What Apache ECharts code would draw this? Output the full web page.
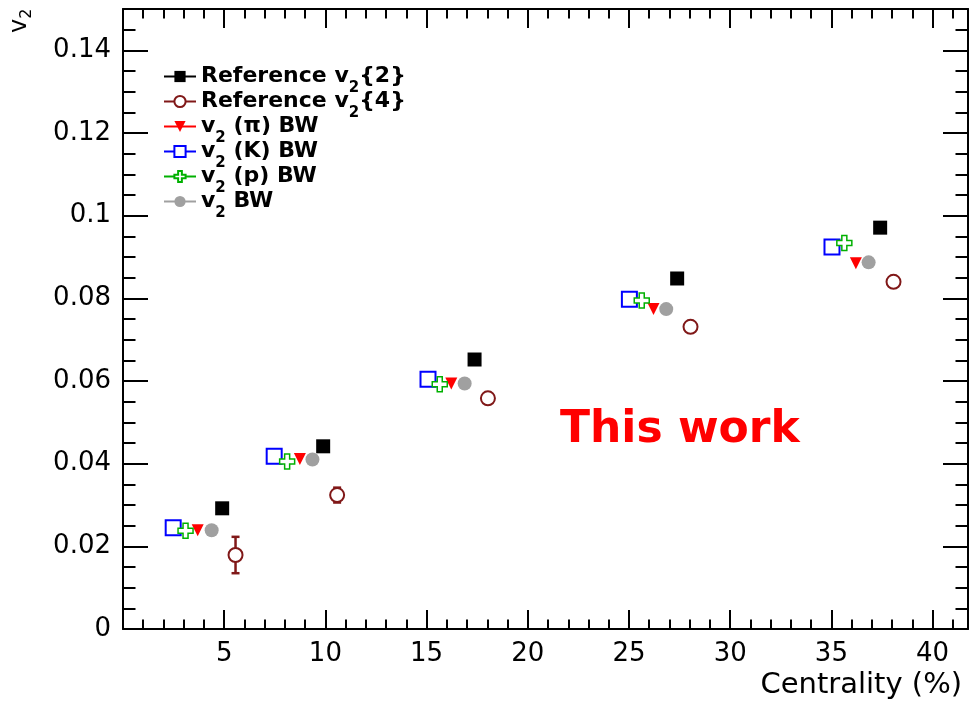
<!DOCTYPE html>
<html><head><meta charset="utf-8">
<script src="https://cdn.jsdelivr.net/npm/echarts@6/dist/echarts.min.js"></script>
<style>html,body{margin:0;padding:0;background:#fff}#c{width:971px;height:708px}</style>
</head><body><div id="c"></div>
<script>
// ---- data ----
const xTickLabels = [5, 10, 15, 20, 25, 30, 35, 40];
const yTickLabels = ['0', '0.02', '0.04', '0.06', '0.08', '0.1', '0.12', '0.14'];

const refV22X = [4.90, 9.89, 17.37, 27.38, 37.41];
const refV22Y = [0.0292, 0.0442, 0.0652, 0.0848, 0.0971];

const refV24X = [5.56, 10.58, 18.03, 28.04, 38.07];
const refV24Y = [0.0179, 0.0324, 0.0558, 0.0731, 0.0840];
const refV24Err = [0.0044, 0.0018, 0, 0, 0];

const piX = [3.69, 8.74, 16.22, 26.21, 36.21];
const piY = [0.0239, 0.0411, 0.0594, 0.0774, 0.0885];

const kX = [2.48, 7.47, 15.07, 25.02, 35.03];
const kY = [0.0245, 0.0418, 0.0604, 0.0798, 0.0924];

const pX = [3.09, 8.11, 15.65, 25.63, 35.64];
const pY = [0.0238, 0.0405, 0.0592, 0.0795, 0.0934];

const bwX = [4.38, 9.36, 16.88, 26.84, 36.84];
const bwY = [0.0239, 0.0410, 0.0594, 0.0774, 0.0887];

const seriesNames = ['Reference v2{2}', 'Reference v2{4}', 'v2 (π) BW', 'v2 (K) BW', 'v2 (p) BW', 'v2 BW'];
const legendTexts = ['Reference v{s|2}{2}', 'Reference v{s|2}{4}', 'v{s|2} (π) BW', 'v{s|2} (K) BW', 'v{s|2} (p) BW', 'v{s|2} BW'];

// ---- helpers ----
const FONT = 'DejaVu Sans';
const zip = (xs, ys) => xs.map((x, i) => [x, ys[i]]);
const XMIN = 0, XMAX = 41.75, YMIN = 0, YMAX = 0.15;

function xAxisDef(pos, major) {
  return {
    type: 'value', position: pos, min: XMIN, max: XMAX,
    interval: major ? 5 : 1,
    axisLine: { show: major, onZero: false, lineStyle: { color: '#000', width: 2 } },
    axisTick: { show: true, inside: true, length: major ? 19 : 9.5, lineStyle: { color: '#000', width: 2 } },
    axisLabel: (major && pos === 'bottom') ? {
      show: true, margin: 12, color: '#000', fontFamily: FONT, fontSize: 26,
      formatter: v => xTickLabels.indexOf(Math.round(v * 1000) / 1000) >= 0 ? String(Math.round(v)) : ''
    } : { show: false },
    splitLine: { show: false }
  };
}
function yAxisDef(pos, major) {
  return {
    type: 'value', position: pos, min: YMIN, max: YMAX,
    interval: major ? 0.02 : 0.005,
    axisLine: { show: major, onZero: false, lineStyle: { color: '#000', width: 2 } },
    axisTick: { show: true, inside: true, length: major ? 25 : 12.5, lineStyle: { color: '#000', width: 2 } },
    axisLabel: (major && pos === 'left') ? {
      show: true, margin: 12, color: '#000', fontFamily: FONT, fontSize: 26,
      formatter: v => { const l = yTickLabels.find(t => Math.abs(parseFloat(t) - v) < 1e-9); return l === undefined ? '' : l; }
    } : { show: false },
    splitLine: { show: false }
  };
}

function scatterLine(name, data, color, symbol, size, extra) {
  return Object.assign({
    name, type: 'line', data, xAxisIndex: 0, yAxisIndex: 0,
    symbol, symbolSize: size, showSymbol: true, showAllSymbol: true,
    lineStyle: { color, width: 2, opacity: 0 },
    itemStyle: { color },
    emphasis: { disabled: true }, silent: true, z: 3
  }, extra || {});
}

const chart = echarts.init(document.getElementById('c'), null, { renderer: 'canvas' });
chart.setOption({
  animation: false,
  backgroundColor: '#fff',
  grid: { left: 123, right: 2, top: 9, bottom: 79, containLabel: false },
  xAxis: [xAxisDef('bottom', true), xAxisDef('bottom', false), xAxisDef('top', true), xAxisDef('top', false)],
  yAxis: [yAxisDef('left', true), yAxisDef('left', false), yAxisDef('right', true), yAxisDef('right', false)],
  legend: {
    show: true, orient: 'vertical', left: 163, top: 57, padding: 0,
    itemWidth: 32, itemHeight: 14, itemGap: -14, selectedMode: false,
    data: seriesNames,
    lineStyle: { width: 2, opacity: 1 },
    formatter: name => legendTexts[seriesNames.indexOf(name)],
    textStyle: {
      fontFamily: FONT, fontWeight: 'bold', fontSize: 22, color: '#000', lineHeight: 22,
      rich: { s: { fontFamily: FONT, fontWeight: 'bold', fontSize: 15, color: '#000', lineHeight: 22, padding: [24, 0, 0, 0] } }
    }
  },
  series: [
    {
      name: 'err', type: 'custom', xAxisIndex: 0, yAxisIndex: 0, z: 2, silent: true,
      data: refV24X.map((x, i) => [x, refV24Y[i], refV24Err[i]]),
      renderItem: (params, api) => {
        const x = api.value(0), y = api.value(1), e = api.value(2);
        if (!e) return null;
        const t = api.coord([x, y + e]), b = api.coord([x, y - e]);
        const st = { stroke: '#801818', lineWidth: 2.5 };
        return { type: 'group', children: [
          { type: 'line', shape: { x1: t[0], y1: t[1], x2: b[0], y2: b[1] }, style: st },
          { type: 'line', shape: { x1: t[0] - 4, y1: t[1], x2: t[0] + 4, y2: t[1] }, style: st },
          { type: 'line', shape: { x1: b[0] - 4, y1: b[1], x2: b[0] + 4, y2: b[1] }, style: st }
        ] };
      }
    },
    scatterLine(seriesNames[0], zip(refV22X, refV22Y), '#000000', 'rect', 14),
    scatterLine(seriesNames[1], zip(refV24X, refV24Y), '#801818', 'emptyCircle', 14, { itemStyle: { color: '#801818', borderWidth: 2 } }),
    scatterLine(seriesNames[2], zip(piX, piY), '#ff0000', 'triangle', 12, { symbolRotate: 180 }),
    scatterLine(seriesNames[3], zip(kX, kY), '#0000ff', 'emptyRect', 15, { itemStyle: { color: '#0000ff', borderWidth: 1.5 } }),
    scatterLine(seriesNames[4], zip(pX, pY), '#00b000', 'path://M5,0H10V5H15V10H10V15H5V10H0V5H5Z', 15,
      { itemStyle: { color: '#ffffff', borderColor: '#00b000', borderWidth: 1.5 } }),
    scatterLine(seriesNames[5], zip(bwX, bwY), '#a0a0a0', 'circle', 14)
  ],
  graphic: [
    { type: 'text', x: 560, y: 431, silent: true,
      style: { text: 'This work', fill: '#ff0000', fontFamily: FONT, fontWeight: 'bold', fontSize: 44, verticalAlign: 'middle', align: 'left' } },
    { type: 'text', x: 962, y: 685, silent: true,
      style: { text: 'Centrality (%)', fill: '#000', fontFamily: FONT, fontSize: 29, verticalAlign: 'middle', align: 'right' } },
    { type: 'text', x: 8, y: 33, rotation: Math.PI / 2, silent: true,
      style: { text: 'v{s|2}', fill: '#000', fontFamily: FONT, fontSize: 24, lineHeight: 24, verticalAlign: 'top', align: 'left',
        rich: { s: { fontFamily: FONT, fontSize: 16, lineHeight: 24, padding: [14, 0, 0, 0], fill: '#000' } } } }
  ]
});
</script></body></html>
